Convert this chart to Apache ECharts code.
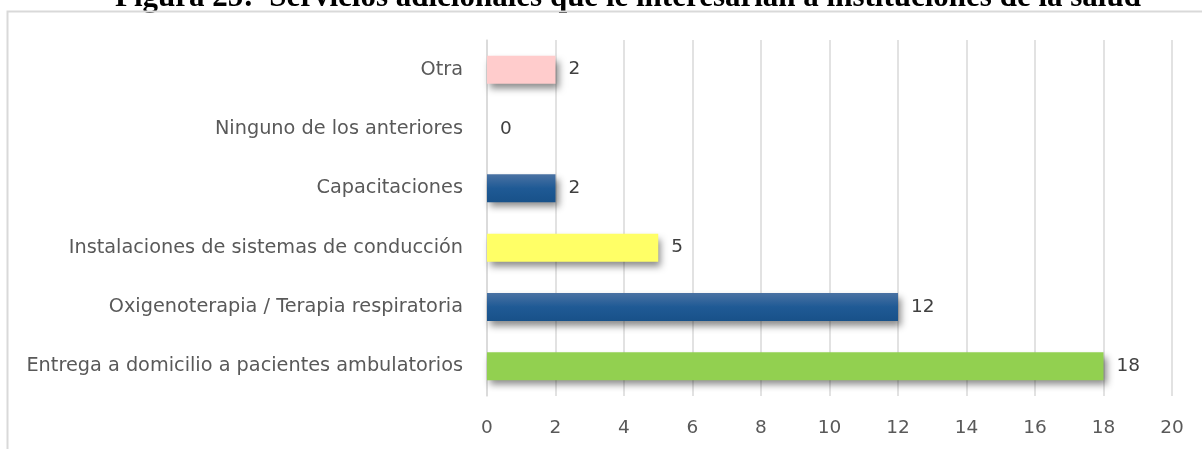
<!DOCTYPE html>
<html>
<head>
<meta charset="utf-8">
<script src="https://cdn.jsdelivr.net/npm/echarts@6/dist/echarts.min.js"></script>
<style>
  html, body { margin: 0; padding: 0; background: #fff; }
  #chart { width: 1202px; height: 449px; }
</style>
</head>
<body>
<div id="chart"></div>
<script>
var categories = [
    'Entrega a domicilio a pacientes ambulatorios',
    'Oxigenoterapia / Terapia respiratoria',
    'Instalaciones de sistemas de conducción',
    'Capacitaciones',
    'Ninguno de los anteriores',
    'Otra'
];
var values = [18, 12, 5, 2, 0, 2];
var xTicks = [0, 2, 4, 6, 8, 10, 12, 14, 16, 18, 20];

var blueFill = new echarts.graphic.LinearGradient(0, 0, 0, 1, [
    { offset: 0, color: '#4a72a3' },
    { offset: 0.5, color: '#1f5a95' },
    { offset: 1, color: '#185189' }
]);
var barColors = ['#92d050', blueFill, '#ffff66', blueFill, '#cccccc', '#ffcccc'];

var dom = document.getElementById('chart');
var myChart = echarts.init(dom, null, { renderer: 'canvas' });

var labelFont = 'DejaVu Sans';

var option = {
    animation: false,
    backgroundColor: '#fff',
    graphic: [
        {
            type: 'text',
            x: 628,
            y: 13,
            style: {
                text: 'Figura 25:  Servicios adicionales que le interesarían a instituciones de la salud',
                font: 'bold 31px "Liberation Serif"',
                fill: '#000',
                align: 'center',
                verticalAlign: 'bottom'
            }
        },
        {
            type: 'rect',
            shape: { x: 7.5, y: 11.5, width: 1300, height: 500 },
            style: { fill: 'none', stroke: '#d9d9d9', lineWidth: 2 },
            silent: true
        }
    ],
    grid: { left: 487, right: 30, top: 40, bottom: 53 },
    xAxis: {
        type: 'value',
        min: 0,
        max: 20,
        interval: 2,
        axisLine: { show: false },
        axisTick: { show: false },
        axisLabel: {
            margin: 23,
            color: '#595959',
            fontFamily: labelFont,
            fontSize: 18.5,
            formatter: function (v) { return xTicks.indexOf(v) >= 0 ? String(v) : ''; }
        },
        splitLine: { lineStyle: { color: '#d9d9d9', width: 1.5 } }
    },
    yAxis: {
        type: 'category',
        data: categories,
        axisLine: { show: true, lineStyle: { color: '#d9d9d9', width: 1.5 } },
        axisTick: { show: false },
        axisLabel: {
            margin: 24,
            color: '#595959',
            fontFamily: labelFont,
            fontSize: 19.3
        }
    },
    series: [{
        type: 'bar',
        barWidth: 28,
        data: values.map(function (v, i) {
            return { value: v, itemStyle: { color: barColors[i] } };
        }),
        itemStyle: {
            shadowColor: 'rgba(0,0,0,0.45)',
            shadowBlur: 7,
            shadowOffsetX: 3,
            shadowOffsetY: 5
        },
        label: {
            show: true,
            position: 'right',
            distance: 13,
            color: '#404040',
            fontFamily: labelFont,
            fontSize: 18.5
        }
    }]
};

myChart.setOption(option);
window.addEventListener('resize', myChart.resize);
</script>
</body>
</html>
